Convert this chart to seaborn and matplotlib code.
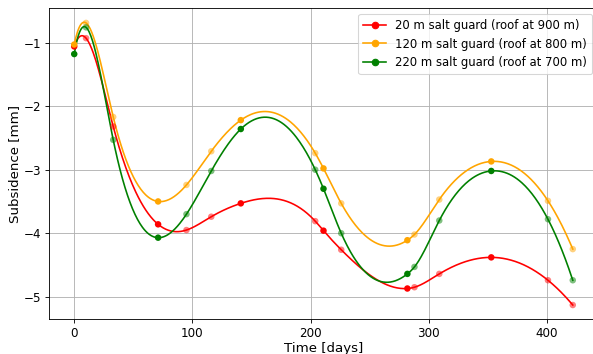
import numpy as np
import pandas as pd
import matplotlib
matplotlib.use("Agg")
from matplotlib import pyplot as plt
from matplotlib.lines import Line2D
import seaborn as sns

# measurement times [days]
days = [0, 10, 33, 71, 95, 116, 141, 204, 211, 226, 282, 288, 309, 353, 401, 422]
# which times are drawn as full (opaque) markers
solid = [True, False, False, True, False, False, True, False, True, False, True, False, False, True, False, False]

sub_20 = [-1.06, -0.93, -2.32, -3.86, -3.95, -3.74, -3.53, -3.81, -3.96, -4.26, -4.87, -4.85, -4.64, -4.38, -4.74, -5.13]
sub_120 = [-1.03, -0.69, -2.17, -3.50, -3.24, -2.71, -2.22, -2.74, -2.98, -3.53, -4.11, -4.02, -3.47, -2.87, -3.49, -4.25]
sub_220 = [-1.18, -0.76, -2.53, -4.07, -3.70, -3.02, -2.36, -3.00, -3.30, -4.00, -4.64, -4.53, -3.80, -3.02, -3.78, -4.74]

labels = ["20 m salt guard (roof at 900 m)",
          "120 m salt guard (roof at 800 m)",
          "220 m salt guard (roof at 700 m)"]
colors = ["red", "orange", "green"]


def cubic_spline(x, y, xs):
    # not-a-knot cubic spline, numpy only
    x = np.asarray(x, float)
    y = np.asarray(y, float)
    n = len(x)
    h = np.diff(x)
    A = np.zeros((n, n))
    b = np.zeros(n)
    A[0, 0], A[0, 1], A[0, 2] = h[1], -(h[0] + h[1]), h[0]
    A[-1, -3], A[-1, -2], A[-1, -1] = h[-1], -(h[-2] + h[-1]), h[-2]
    for i in range(1, n - 1):
        A[i, i - 1] = h[i - 1]
        A[i, i] = 2 * (h[i - 1] + h[i])
        A[i, i + 1] = h[i]
        b[i] = 6 * ((y[i + 1] - y[i]) / h[i] - (y[i] - y[i - 1]) / h[i - 1])
    M = np.linalg.solve(A, b)
    idx = np.clip(np.searchsorted(x, xs) - 1, 0, n - 2)
    x0, x1 = x[idx], x[idx + 1]
    hh = x1 - x0
    return (M[idx] * (x1 - xs) ** 3 / (6 * hh) + M[idx + 1] * (xs - x0) ** 3 / (6 * hh)
            + (y[idx] / hh - M[idx] * hh / 6) * (x1 - xs)
            + (y[idx + 1] / hh - M[idx + 1] * hh / 6) * (xs - x0))


dpi = 78
fig = plt.figure(figsize=(593 / dpi, 354 / dpi), dpi=dpi)
ax = fig.add_axes([49.3 / 593, 35 / 354, (597.7 - 49.3) / 593, (319 - 8.3) / 354])

t_fine = np.linspace(days[0], days[-1], 600)
handles = []
for vals, lab, col in zip([sub_20, sub_120, sub_220], labels, colors):
    curve = pd.DataFrame({"t": t_fine, "s": cubic_spline(days, vals, t_fine)})
    sns.lineplot(data=curve, x="t", y="s", color=col, lw=1.5, ax=ax, estimator=None, sort=False)
    pts = pd.DataFrame({"t": days, "s": vals, "solid": solid})
    sns.scatterplot(data=pts[~pts.solid], x="t", y="s", color=col, alpha=0.5, s=36,
                    edgecolor="none", ax=ax, zorder=3)
    sns.scatterplot(data=pts[pts.solid], x="t", y="s", color=col, s=36,
                    edgecolor="none", ax=ax, zorder=3)
    handles.append(Line2D([], [], color=col, marker="o", markersize=6, lw=1.5, label=lab))

ax.set_xlim(-21.1, 443.1)
ax.set_ylim(-5.35, -0.46)
ax.grid(True, color="#b0b0b0", lw=0.8)
ax.set_axisbelow(True)
ax.set_xlabel("Time [days]", fontsize=12.3, labelpad=2)
ax.set_ylabel("Subsidence [mm]", fontsize=12.3, labelpad=3)
ax.tick_params(labelsize=11)
ax.legend(handles=handles, loc="upper right", fontsize=10.7)

fig.savefig("out.png", dpi=dpi)
